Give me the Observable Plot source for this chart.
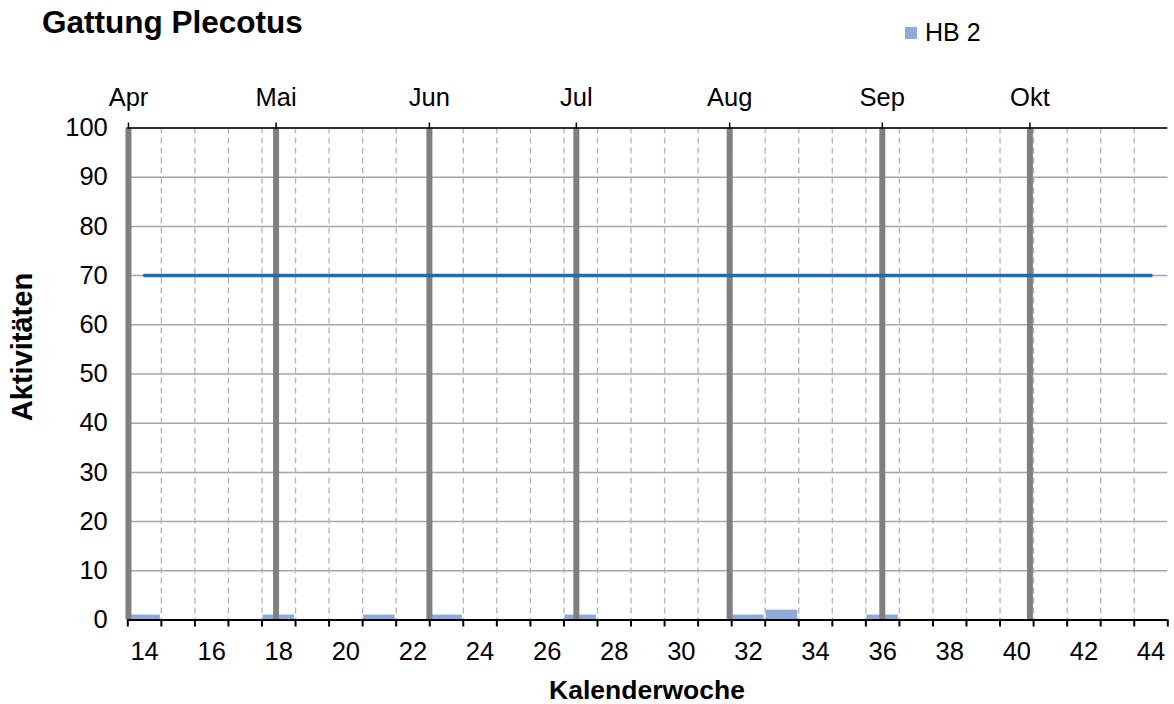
<!DOCTYPE html>
<html>
<head>
<meta charset="utf-8">
<script src="https://cdn.jsdelivr.net/npm/d3@7"></script>
<script src="https://cdn.jsdelivr.net/npm/@observablehq/plot@0.6"></script>
<style>
  body { margin: 0; background: #fff; font-family: "Liberation Sans", Arial, sans-serif; }
  #wrap { position: relative; width: 1174px; height: 704px; }
  #wrap svg { position: absolute; left: 0; top: 0; }
  .t { position: absolute; white-space: nowrap; color: #000; line-height: 1; z-index: 2; }
  #title { left: 42px; top: 7px; font-size: 31.5px; font-weight: bold; }
  #legend { left: 905px; top: 20px; font-size: 25px; }
  #legend span.sw { display: inline-block; width: 12px; height: 12px; background: #8eaadb; margin-right: 8px; vertical-align: 2px; }
  #ylab { left: 22px; top: 347px; font-size: 29px; font-weight: bold; transform: translate(-50%, -50%) rotate(-90deg); }
  #xlab { left: 647px; top: 690px; font-size: 26.5px; font-weight: bold; transform: translate(-50%, -50%); }
</style>
</head>
<body>
<div id="wrap">
  <div class="t" id="title">Gattung Plecotus</div>
  <div class="t" id="legend"><span class="sw"></span>HB 2</div>
  <div class="t" id="ylab">Aktivitäten</div>
  <div class="t" id="xlab">Kalenderwoche</div>
</div>
<script>
// Calendar weeks (category axis) and recorded activity of HB 2 per week
const weeks = [14, 15, 16, 17, 18, 19, 20, 21, 22, 23, 24, 25, 26, 27, 28, 29,
               30, 31, 32, 33, 34, 35, 36, 37, 38, 39, 40, 41, 42, 43, 44];
const hb2   = [1, 0, 0, 0, 1, 0, 0, 1, 0, 1, 0, 0, 0, 1, 0, 0,
               0, 0, 1, 2, 0, 0, 1, 0, 0, 0, 0, 0, 0, 0, 0];

// Reference level drawn across the season
const thresholdWeeks = [14, 44];
const thresholdValues = [70, 70];

// Month starts on the secondary (top) axis, in calendar-week units
const months = ["Apr", "Mai", "Jun", "Jul", "Aug", "Sep", "Okt"];
const monthWeek = [13.52, 17.92, 22.49, 26.87, 31.44, 35.99, 40.39];

// Axis ticks
const yTicks = [0, 10, 20, 30, 40, 50, 60, 70, 80, 90, 100];
const weekLabels = [14, 16, 18, 20, 22, 24, 26, 28, 30, 32, 34, 36, 38, 40, 42, 44];

const bars = weeks.map((w, i) => ({week: w, value: hb2[i]}));
const threshold = thresholdWeeks.map((w, i) => ({week: w, value: thresholdValues[i]}));
const bounds = weeks.map(w => w - 0.5).concat([weeks[weeks.length - 1] + 0.5]);
const innerBounds = bounds.slice(1, -1);
const monthName = new Map(monthWeek.map((m, i) => [m, months[i]]));

const font = "Liberation Sans, Arial, sans-serif";

const chart = Plot.plot({
  width: 1174,
  height: 704,
  marginLeft: 127.3,
  marginRight: 6.7,
  marginTop: 127.5,
  marginBottom: 84.5,
  style: {fontFamily: font, color: "#000", background: "transparent"},
  x: {type: "linear", domain: [13.5, 44.5]},
  y: {domain: [0, 100]},
  marks: [
    Plot.gridY(yTicks.slice(1), {stroke: "#a6a6a6", strokeOpacity: 1, strokeWidth: 1.5}),
    Plot.ruleX(innerBounds, {stroke: "#b3b3b3", strokeWidth: 1.3, strokeDasharray: "6,4"}),
    Plot.rectY(bars, {x1: d => d.week - 0.5, x2: d => d.week + 0.5, y: "value", fill: "#8eaadb", insetLeft: 1, insetRight: 1}),
    Plot.ruleX(monthWeek, {stroke: "#7f7f7f", strokeWidth: 6}),
    Plot.lineY(threshold, {x: "week", y: "value", stroke: "#1f6cb0", strokeWidth: 3.5}),
    Plot.ruleY([0], {stroke: "#000", strokeWidth: 2}),
    Plot.ruleY([100], {stroke: "#000", strokeWidth: 1.5}),
    Plot.axisX(bounds, {tickSize: 7, strokeWidth: 2, tickFormat: () => "", label: null}),
    Plot.axisX(weekLabels, {tickSize: 0, tickPadding: 22, fontSize: 25.5, tickFormat: d => String(d), label: null}),
    Plot.axisX(monthWeek, {anchor: "top", tickSize: 6, strokeWidth: 1.5, tickPadding: 16, fontSize: 25.5, tickFormat: d => monthName.get(d), label: null}),
    Plot.axisY(yTicks, {tickSize: 0, tickPadding: 20, fontSize: 25.5, label: null})
  ]
});

document.getElementById("wrap").prepend(chart);
</script>
</body>
</html>
